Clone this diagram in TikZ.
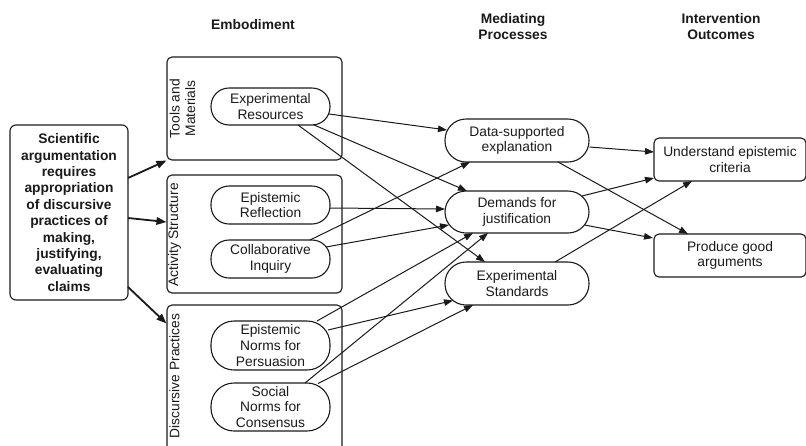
\documentclass[tikz,border=0pt]{standalone}
\usepackage{fontspec}
\setmainfont{Liberation Sans}
\usetikzlibrary{arrows.meta,calc}
\definecolor{ink}{HTML}{1A1A1A}
\begin{document}
\begin{tikzpicture}[x=1pt,y=-1pt,
  every node/.style={text=ink},
  txt/.style={font=\fontsize{13.8}{15.6}\selectfont, align=center, inner sep=0pt},
  hdr/.style={font=\bfseries\fontsize{13.8}{16.5}\selectfont, align=center, inner sep=0pt},
  grp/.style={draw=ink, line width=1.1pt, rounded corners=5pt, minimum width=175pt, inner sep=0pt},
  pill/.style={txt, draw=ink, line width=1.1pt, minimum width=119pt},
  mpill/.style={txt, draw=ink, line width=1.1pt, minimum width=144pt, rounded corners=21pt},
  outbox/.style={txt, draw=ink, line width=1.1pt, minimum width=152pt, minimum height=43pt, rounded corners=5pt},
  arr/.style={draw=ink, line width=1pt, -{Triangle[length=9pt,width=6.5pt]}},
  arrL/.style={draw=ink, line width=1.8pt, -{Triangle[length=10pt,width=7.5pt]}}]
\useasboundingbox (0,0) rectangle (806,445);

% headers
\node[hdr] (h1) at (253,25) {Embodiment};
\node[hdr] (h2) at (513,26.5) {Mediating\\Processes};
\node[hdr] (h3) at (721,26.5) {Intervention\\Outcomes};

% claim box
\node[draw=ink, line width=1.1pt, rounded corners=6pt, minimum width=118pt, minimum height=175pt,
      font=\bfseries\fontsize{13.8}{16.4}\selectfont, align=center, inner sep=0pt] (claim) at (69,212.5)
  {Scientific\\argumentation\\requires\\appropriation\\of discursive\\practices of\\making,\\justifying,\\evaluating\\claims};

% group boxes
\node[grp, minimum height=103pt] (tools) at (254.5,108.5) {};
\node[grp, minimum height=118pt] (activity) at (254.5,234) {};
\node[grp, minimum height=148pt] (discursive) at (254.5,379) {};

\node[txt, rotate=90] (tlab) at (182.5,108.5) {Tools and\\Materials};
\node[txt, rotate=90] (alab) at (174.5,235) {Activity Structure};
\node[txt, rotate=90] (dlab) at (174.5,376) {Discursive Practices};

% embodiment pills
\node[pill, minimum height=37pt, rounded corners=18pt] (er) at (270.5,106.5) {Experimental\\Resources};
\node[pill, minimum height=38pt, rounded corners=18pt] (refl) at (270.5,205) {Epistemic\\Reflection};
\node[pill, minimum height=38pt, rounded corners=18pt] (coll) at (270.5,259) {Collaborative\\Inquiry};
\node[pill, minimum height=49pt, rounded corners=23pt] (enp) at (270.5,345.5) {Epistemic\\Norms for\\Persuasion};
\node[pill, minimum height=48pt, rounded corners=23pt] (snc) at (270.5,407) {Social\\Norms for\\Consensus};

% mediating pills
\node[mpill, minimum height=43pt] (dse) at (517,140.5) {Data-supported\\explanation};
\node[mpill, minimum height=42pt] (dfj) at (517,212) {Demands for\\justification};
\node[mpill, minimum height=43pt] (es) at (517,283.5) {Experimental\\Standards};

% outcomes
\node[outbox] (uec) at (730,159.5) {Understand epistemic\\criteria};
\node[outbox] (pga) at (730,255.5) {Produce good\\arguments};

% claim arrows
\draw[arrL] ($(claim.center)+(59,-34.5)$) -- (tools.south west);
\draw[arrL] ($(claim.center)+(59,5.5)$) -- ($(activity.west)+(0,-12)$);
\draw[arrL] ($(claim.center)+(59,74.5)$) -- ($(discursive.north west)+(0,19)$);

% embodiment -> mediating
\draw[arr] ($(er.center)+(58.5,7.5)$) -- ($(dse.center)+(-70,-10.5)$);
\draw[arr] ($(er.center)+(42.5,18)$) -- ($(dfj.center)+(-50,-21)$);
\draw[arr] ($(er.center)+(27.5,18.5)$) -- ($(es.center)+(-32,-21.5)$);
\draw[arr] ($(refl.center)+(59.5,3)$) -- ($(dfj.center)+(-72,-3)$);
\draw[arr] ($(coll.center)+(39.5,-19)$) -- ($(dse.center)+(-47,21.5)$);
\draw[arr] ($(coll.center)+(55.5,-12)$) -- ($(dfj.center)+(-68,13)$);
\draw[arr] ($(enp.center)+(46.5,-24.5)$) -- ($(dfj.center)+(-44,21)$);
\draw[arr] ($(enp.center)+(57.5,-15.5)$) -- ($(es.center)+(-64,17)$);
\draw[arr] ($(snc.center)+(34.5,-24)$) -- ($(dfj.center)+(-29,21)$);
\draw[arr] ($(snc.center)+(47.5,-23.5)$) -- ($(es.center)+(-44,21.5)$);

% mediating -> outcomes
\draw[arr] ($(dse.center)+(72.5,6.5)$) -- ($(uec.center)+(-76,-7.5)$);
\draw[arr] ($(dse.center)+(41,21.5)$) -- ($(pga.center)+(-42,-21.5)$);
\draw[arr] ($(dfj.center)+(65,-16)$) -- ($(uec.center)+(-76,18.5)$);
\draw[arr] ($(dfj.center)+(67.5,13)$) -- ($(pga.center)+(-77,-17.5)$);
\draw[arr] ($(es.center)+(38,-21.5)$) -- ($(uec.center)+(-38,21.5)$);
\end{tikzpicture}
\end{document}
